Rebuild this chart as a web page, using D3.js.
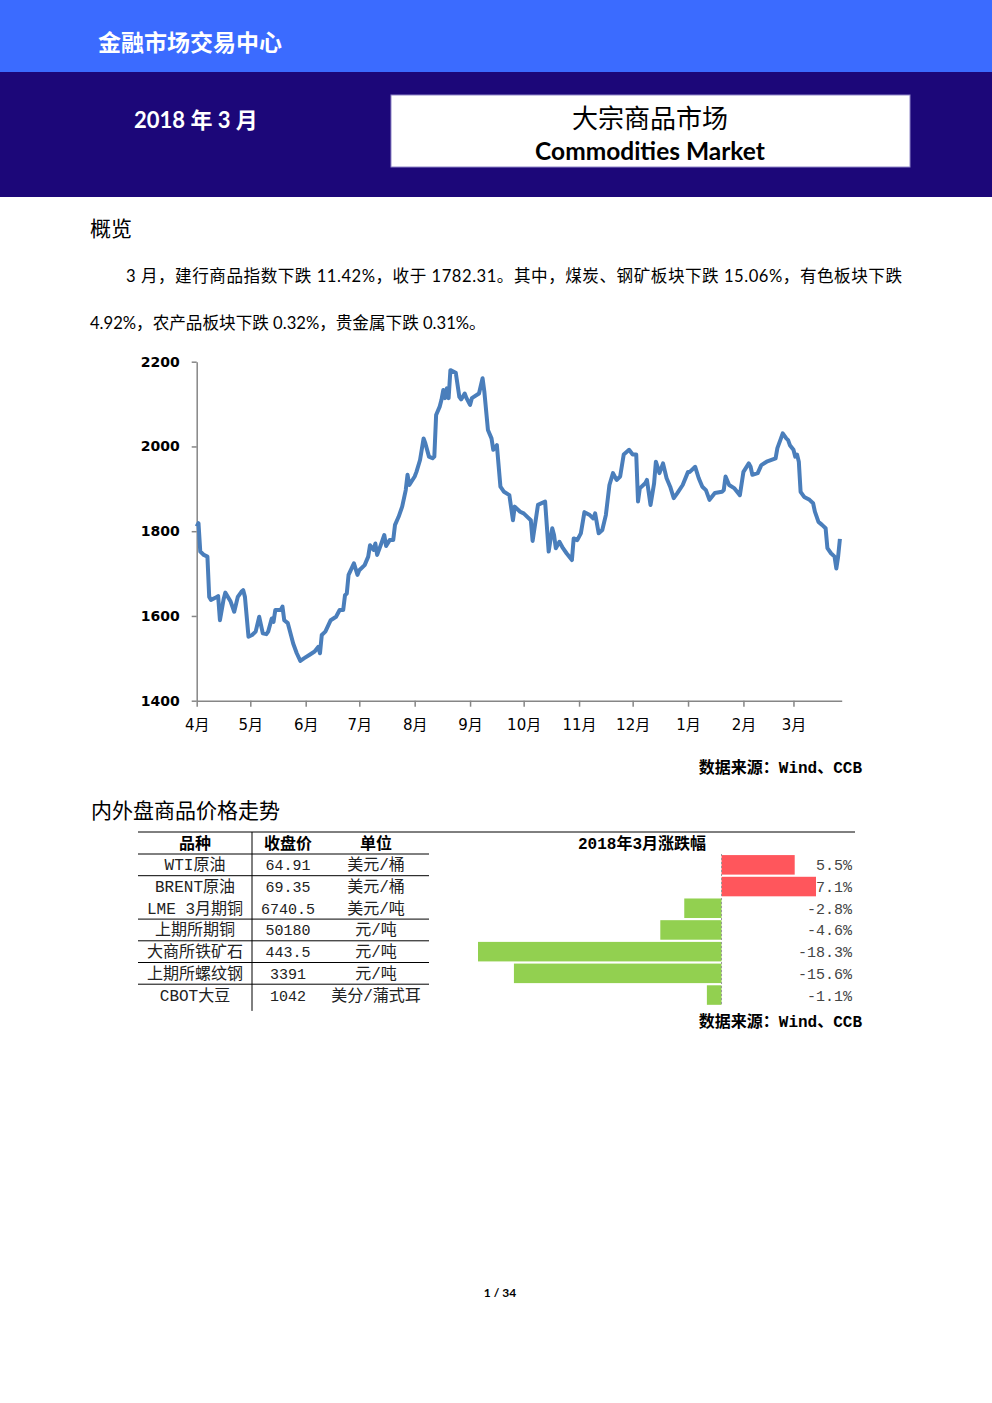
<!DOCTYPE html>
<html lang="zh">
<head>
<meta charset="UTF-8">
<title>大宗商品市场 2018年3月</title>
<script src="https://d3js.org/d3.v7.min.js"></script>
<style>
  body { margin: 0; background: #fff; }
  svg { display: block; }
  .sans { font-family: Lato, "Noto Sans CJK SC", sans-serif; }
  .serif { font-family: "Liberation Mono", "Noto Sans CJK SC", monospace; }
  .axis path, .axis line { stroke: #868686; stroke-width: 1.5; }
  .axis text { font-family: Verdana, "DejaVu Sans", "Noto Sans CJK SC", sans-serif; fill: #000; }
</style>
</head>
<body>
<script>
// 建行商品指数（日度）
const priceDates = [
  "2017-04-01","2017-04-02","2017-04-03","2017-04-05","2017-04-07","2017-04-08","2017-04-09","2017-04-12","2017-04-13","2017-04-14",
  "2017-04-16","2017-04-17","2017-04-20","2017-04-22","2017-04-24","2017-04-26","2017-04-27","2017-04-28","2017-04-30","2017-05-02",
  "2017-05-04","2017-05-06","2017-05-08","2017-05-10","2017-05-11","2017-05-13","2017-05-14","2017-05-15","2017-05-18","2017-05-19",
  "2017-05-20","2017-05-22","2017-05-25","2017-05-27","2017-05-29","2017-05-31","2017-06-03","2017-06-06","2017-06-08","2017-06-09",
  "2017-06-10","2017-06-12","2017-06-15","2017-06-18","2017-06-20","2017-06-22","2017-06-23","2017-06-24","2017-06-25","2017-06-28",
  "2017-06-30","2017-07-01","2017-07-04","2017-07-06","2017-07-07","2017-07-09","2017-07-10","2017-07-11","2017-07-13","2017-07-15",
  "2017-07-16","2017-07-18","2017-07-20","2017-07-21","2017-07-23","2017-07-25","2017-07-27","2017-07-28","2017-07-29","2017-08-01",
  "2017-08-02","2017-08-04","2017-08-06","2017-08-07","2017-08-09","2017-08-11","2017-08-12","2017-08-13","2017-08-15","2017-08-16",
  "2017-08-17","2017-08-18","2017-08-19","2017-08-20","2017-08-21","2017-08-24","2017-08-26","2017-08-27","2017-08-29","2017-08-30",
  "2017-09-01","2017-09-02","2017-09-06","2017-09-08","2017-09-09","2017-09-11","2017-09-13","2017-09-14","2017-09-16","2017-09-18",
  "2017-09-20","2017-09-23","2017-09-25","2017-09-26","2017-09-29","2017-10-01","2017-10-05","2017-10-06","2017-10-09","2017-10-13",
  "2017-10-14","2017-10-15","2017-10-17","2017-10-18","2017-10-19","2017-10-21","2017-10-23","2017-10-25","2017-10-28","2017-10-29",
  "2017-10-31","2017-11-02","2017-11-04","2017-11-07","2017-11-09","2017-11-10","2017-11-12","2017-11-14","2017-11-16","2017-11-18",
  "2017-11-20","2017-11-22","2017-11-24","2017-11-26","2017-11-29","2017-12-01","2017-12-03","2017-12-04","2017-12-05","2017-12-08",
  "2017-12-09","2017-12-11","2017-12-13","2017-12-14","2017-12-16","2017-12-18","2017-12-20","2017-12-22","2017-12-24","2017-12-26",
  "2017-12-29","2018-01-01","2018-01-02","2018-01-05","2018-01-07","2018-01-09","2018-01-11","2018-01-13","2018-01-16","2018-01-20",
  "2018-01-21","2018-01-22","2018-01-24","2018-01-27","2018-01-30","2018-02-01","2018-02-04","2018-02-05","2018-02-06","2018-02-09",
  "2018-02-11","2018-02-14","2018-02-19","2018-02-20","2018-02-22","2018-02-23","2018-02-25","2018-02-26","2018-02-27","2018-03-01",
  "2018-03-02","2018-03-03","2018-03-04","2018-03-05","2018-03-07","2018-03-10","2018-03-12","2018-03-13","2018-03-15","2018-03-17",
  "2018-03-19","2018-03-20","2018-03-22","2018-03-24","2018-03-25","2018-03-26","2018-03-27"
];
const priceValues = [
  1811,1819,1752,1744,1740,1645,1638,1644,1647,1590,
  1638,1655,1634,1610,1645,1657,1661,1645,1551,1555,
  1563,1598,1559,1557,1563,1594,1586,1614,1614,1622,
  1590,1583,1535,1512,1494,1500,1508,1516,1527,1512,
  1555,1563,1590,1598,1614,1614,1649,1653,1697,1724,
  1697,1708,1720,1740,1767,1756,1771,1744,1767,1791,
  1765,1779,1779,1815,1834,1858,1897,1933,1909,1929,
  1940,1968,2019,2007,1976,1972,1976,2074,2094,2110,
  2133,2114,2137,2114,2180,2174,2117,2111,2125,2114,
  2098,2114,2125,2161,2129,2039,2019,1992,2003,1905,
  1893,1885,1826,1858,1846,1842,1826,1777,1862,1870,
  1811,1752,1807,1791,1760,1775,1760,1748,1732,1783,
  1779,1795,1845,1838,1830,1842,1795,1803,1838,1909,
  1937,1921,1929,1981,1992,1981,1981,1870,1901,1913,
  1921,1862,1913,1964,1937,1960,1925,1905,1878,1890,
  1909,1940,1940,1952,1925,1905,1897,1874,1890,1893,
  1897,1929,1909,1901,1885,1940,1960,1952,1933,1937,
  1956,1964,1972,1996,2019,2031,2019,2015,2003,1992,
  1976,1981,1964,1893,1881,1874,1866,1846,1822,1815,
  1807,1760,1748,1740,1712,1740,1782
];
const yTicks = [1400, 1600, 1800, 2000, 2200];

// 内外盘商品价格走势
const products = ["WTI原油", "BRENT原油", "LME 3月期铜", "上期所期铜", "大商所铁矿石", "上期所螺纹钢", "CBOT大豆"];
const closes = ["64.91", "69.35", "6740.5", "50180", "443.5", "3391", "1042"];
const units = ["美元/桶", "美元/桶", "美元/吨", "元/吨", "元/吨", "元/吨", "美分/蒲式耳"];
const changes = [5.5, 7.1, -2.8, -4.6, -18.3, -15.6, -1.1];
const tableHeaders = ["品种", "收盘价", "单位", "2018年3月涨跌幅"];

const W = 992, H = 1403;
const svg = d3.select("body").append("svg").attr("width", W).attr("height", H);
svg.append("rect").attr("width", W).attr("height", H).attr("fill", "#fff");

// ---- 页眉 ----
svg.append("rect").attr("x", 0).attr("y", 0).attr("width", W).attr("height", 72).attr("fill", "#3b6bff");
svg.append("rect").attr("x", 0).attr("y", 72).attr("width", W).attr("height", 125).attr("fill", "#1c0779");
svg.append("text").attr("class", "sans").attr("x", 98).attr("y", 51)
  .attr("font-size", 23).attr("font-weight", "bold").attr("fill", "#fff").text("金融市场交易中心");
svg.append("text").attr("class", "sans").attr("x", 134).attr("y", 128)
  .attr("font-size", 22).attr("font-weight", "bold").attr("fill", "#fff").text("2018 年 3 月");
svg.append("rect").attr("x", 391).attr("y", 95).attr("width", 519).attr("height", 72)
  .attr("fill", "#fff").attr("stroke", "#8f86c8").attr("stroke-width", 1);
svg.append("text").attr("class", "sans").attr("x", 650).attr("y", 128).attr("text-anchor", "middle")
  .attr("font-size", 26).attr("fill", "#000").text("大宗商品市场");
svg.append("text").attr("class", "sans").attr("x", 650).attr("y", 160).attr("text-anchor", "middle")
  .attr("font-size", 24.5).attr("font-weight", "bold").attr("fill", "#000").text("Commodities Market");

// ---- 概览 ----
svg.append("text").attr("class", "sans").attr("x", 90).attr("y", 236)
  .attr("font-size", 21).attr("fill", "#000").text("概览");
svg.append("text").attr("class", "sans").attr("x", 126).attr("y", 282)
  .attr("font-size", 16.6).attr("fill", "#000")
  .attr("textLength", 776).attr("lengthAdjust", "spacing")
  .text("3 月，建行商品指数下跌 11.42%，收于 1782.31。其中，煤炭、钢矿板块下跌 15.06%，有色板块下跌");
svg.append("text").attr("class", "sans").attr("x", 90).attr("y", 329)
  .attr("font-size", 16.6).attr("fill", "#000")
  .text("4.92%，农产品板块下跌 0.32%，贵金属下跌 0.31%。");

// ---- 折线图 ----
const parse = d3.timeParse("%Y-%m-%d");
const series = priceDates.map((d, i) => ({ date: parse(d), value: priceValues[i] }));

const x = d3.scaleTime()
  .domain([parse("2017-04-01"), parse("2018-03-28")])
  .range([196.7, 841.7]);
const y = d3.scaleLinear().domain([1400, 2200]).range([700.7, 361.7]);

const xAxis = d3.axisBottom(x)
  .ticks(d3.timeMonth.every(1))
  .tickFormat(d => (d.getMonth() + 1) + "月")
  .tickSize(6).tickPadding(14).tickSizeOuter(0);
svg.append("g").attr("class", "axis").attr("transform", `translate(0,${y(1400)})`)
  .call(xAxis)
  .selectAll("text").attr("font-size", 15).attr("dy", "0.6em");

const yAxis = d3.axisLeft(y).tickValues(yTicks).tickFormat(d3.format("d"))
  .tickSize(5).tickPadding(12).tickSizeOuter(0);
svg.append("g").attr("class", "axis").attr("transform", `translate(${x.range()[0]},0)`)
  .call(yAxis)
  .selectAll("text").attr("font-size", 14).attr("font-weight", "bold");

svg.append("path").datum(series)
  .attr("fill", "none").attr("stroke", "#4a7ebb").attr("stroke-width", 4)
  .attr("stroke-linejoin", "round")
  .attr("d", d3.line().x(d => x(d.date)).y(d => y(d.value)));

svg.append("text").attr("class", "serif").attr("x", 862).attr("y", 773).attr("text-anchor", "end")
  .attr("font-size", 16).attr("font-weight", "bold").attr("fill", "#000").text("数据来源：Wind、CCB");

// ---- 内外盘商品价格走势 ----
svg.append("text").attr("class", "sans").attr("x", 91).attr("y", 818)
  .attr("font-size", 21).attr("fill", "#000").text("内外盘商品价格走势");

const rowTop = 854, rowH = 21.7;
const rows = d3.scaleBand().domain(products).range([rowTop, rowTop + rowH * products.length]).paddingInner(0.1).paddingOuter(0.05);
const bx = d3.scaleLinear().domain([-18.3, 7.1]).range([478, 816]);
const colX = [195, 288, 376];

const table = svg.append("g").attr("class", "serif");
table.append("line").attr("x1", 138).attr("x2", 855).attr("y1", 832).attr("y2", 832).attr("stroke", "#000");
table.append("line").attr("x1", 252).attr("x2", 252).attr("y1", 832).attr("y2", rowTop + rowH * products.length + 5).attr("stroke", "#000");

tableHeaders.slice(0, 3).forEach((h, i) => {
  table.append("text").attr("x", colX[i]).attr("y", 849).attr("text-anchor", "middle")
    .attr("font-size", 16).attr("font-weight", "bold").attr("fill", "#000").text(h);
});
table.append("text").attr("x", 642).attr("y", 849).attr("text-anchor", "middle")
  .attr("font-size", 16).attr("font-weight", "bold").attr("fill", "#000").text(tableHeaders[3]);

products.forEach((p, i) => {
  const top = rowTop + rowH * i;
  if (i !== 2) {
    table.append("line").attr("x1", 138).attr("x2", 429).attr("y1", top).attr("y2", top).attr("stroke", "#000");
  }
  const cy = top + rowH / 2 + 5.5;
  [p, closes[i], units[i]].forEach((t, j) => {
    table.append("text").attr("x", colX[j]).attr("y", cy).attr("text-anchor", "middle")
      .attr("font-size", j === 1 ? 15 : 16).attr("fill", "#222").text(t);
  });
  table.append("text").attr("x", 852).attr("y", cy).attr("text-anchor", "end")
    .attr("font-size", 15).attr("fill", "#444").text(changes[i].toFixed(1) + "%");
});

svg.selectAll(".bar").data(products).enter().append("rect")
  .attr("class", "bar")
  .attr("x", (d, i) => bx(Math.min(0, changes[i])))
  .attr("width", (d, i) => Math.abs(bx(changes[i]) - bx(0)))
  .attr("y", d => rows(d))
  .attr("height", rows.bandwidth())
  .attr("fill", (d, i) => changes[i] >= 0 ? "#ff565c" : "#92d050");

svg.append("line").attr("x1", bx(0)).attr("x2", bx(0))
  .attr("y1", rowTop).attr("y2", rowTop + rowH * products.length)
  .attr("stroke", "#999").attr("stroke-dasharray", "2,2");

svg.append("text").attr("class", "serif").attr("x", 862).attr("y", 1027).attr("text-anchor", "end")
  .attr("font-size", 16).attr("font-weight", "bold").attr("fill", "#000").text("数据来源：Wind、CCB");

// ---- 页码 ----
svg.append("text").attr("class", "sans").attr("x", 500).attr("y", 1297).attr("text-anchor", "middle")
  .attr("font-size", 12).attr("font-weight", "bold").attr("fill", "#000").text("1 / 34");
</script>
</body>
</html>
